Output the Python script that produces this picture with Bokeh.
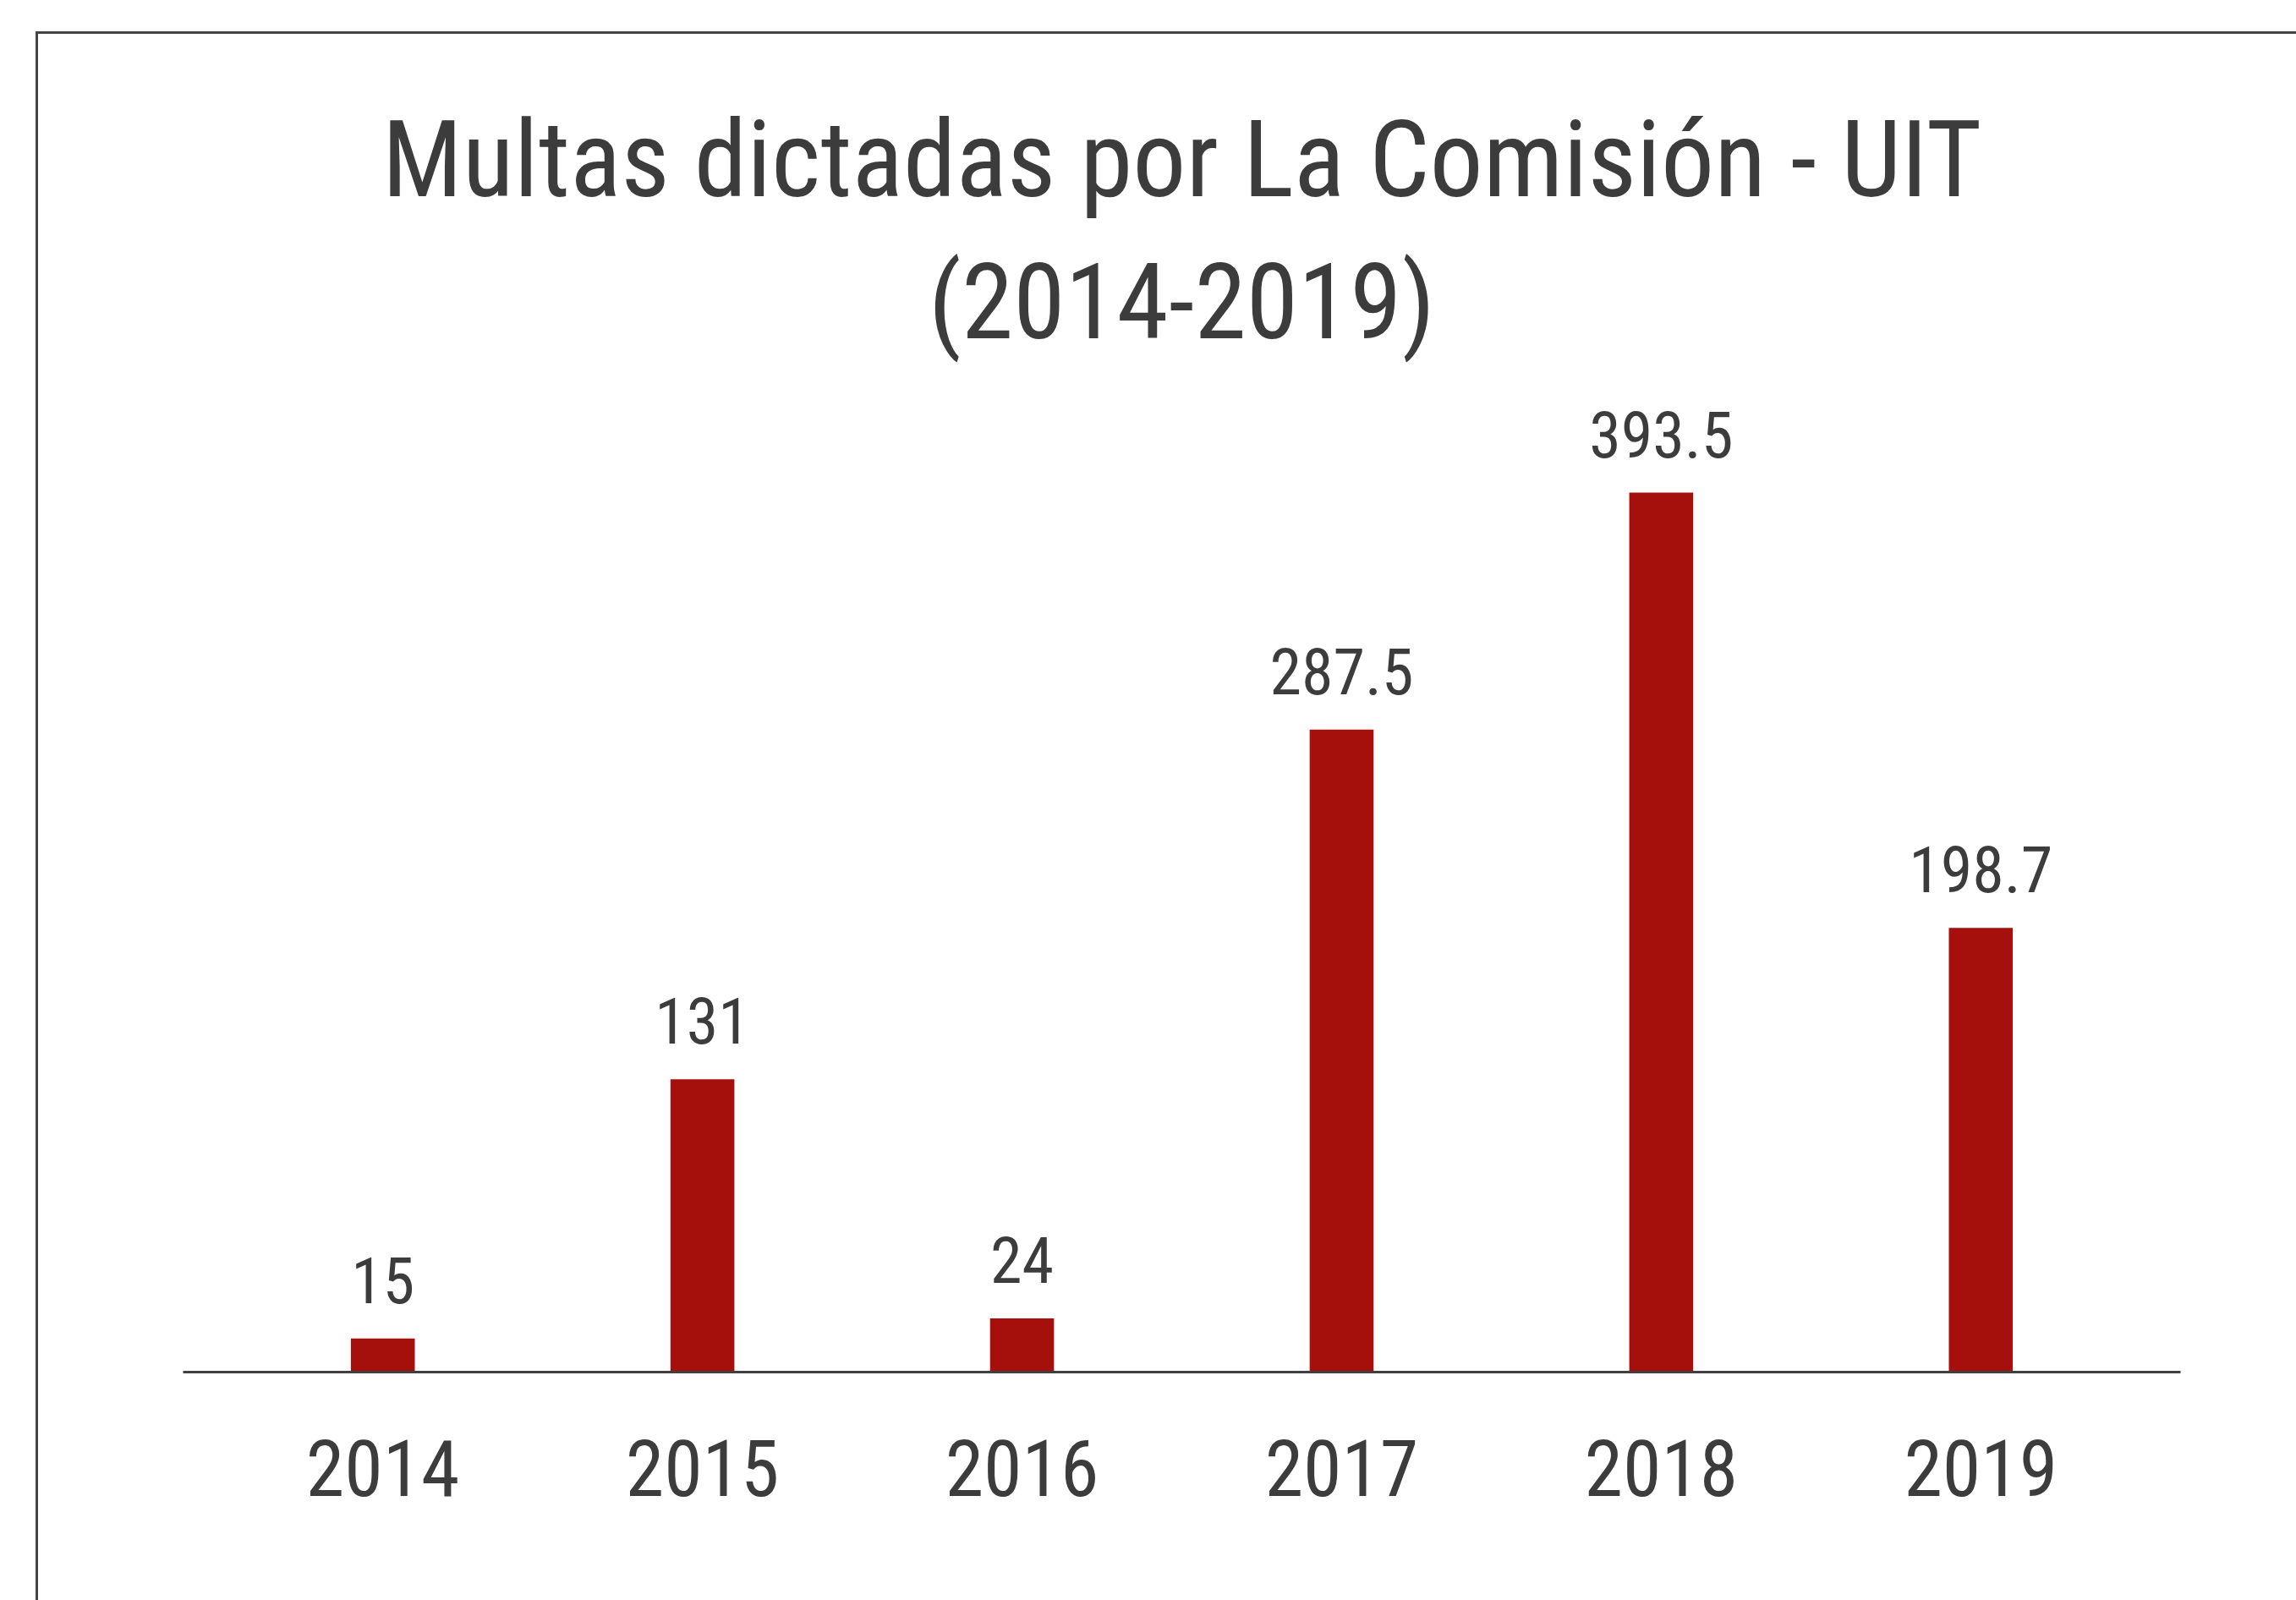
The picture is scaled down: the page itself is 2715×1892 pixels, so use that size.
from bokeh.plotting import figure
from bokeh.models import FactorRange, Range1d, ColumnDataSource, LabelSet, Title
from bokeh.core.properties import value
from bokeh.embed import file_html
from bokeh.resources import INLINE

# Data
years = ["2014", "2015", "2016", "2017", "2018", "2019"]
multas = [15, 131, 24, 287.5, 393.5, 198.7]
labels = [f"{v:g}" for v in multas]
title_main = "Multas dictadas por La Comisión - UIT"
title_sub = "(2014-2019)"

FONT = "Roboto Condensed"
TXT = "#3c3c3c"
BAR = "#a50f0c"
FRAME = "#444444"

src = ColumnDataSource(dict(year=years, value=multas, label=labels))

p = figure(
    width=2715, height=1892,
    x_range=FactorRange(factors=years, range_padding=0.125, range_padding_units="absolute"),
    y_range=Range1d(0, 448),
    output_backend="svg", toolbar_location=None, title=None,
    min_border_left=216, min_border_right=137, min_border_top=438, min_border_bottom=270,
)
p.add_layout(Title(text=title_sub, align="center", text_font=FONT, text_font_size="124px",
                   text_font_style="normal", text_color=TXT, standoff=18), "above")
p.add_layout(Title(text=title_main, align="center", text_font=FONT, text_font_size="126px",
                   text_font_style="normal", text_color=TXT, standoff=22), "above")

p.vbar(x="year", top="value", width=0.2, source=src, fill_color=BAR, line_color=None)

p.add_layout(LabelSet(x="year", y="value", text="label", source=src, y_offset=42,
                      text_align="center", text_baseline="alphabetic",
                      text_font=value(FONT), text_font_size=value("76px"), text_color=TXT))

# outer frame of the chart card (left and top edges visible, the rest runs off the page)
p.border_fill_color = None
p.background_fill_color = None
p.styles = {
    "background": (
        f"linear-gradient({FRAME},{FRAME}) 42px 37px / 3px 100% no-repeat, "
        f"linear-gradient({FRAME},{FRAME}) 42px 37px / 100% 3px no-repeat, #ffffff"
    )
}

p.yaxis.visible = False
p.xgrid.visible = False
p.ygrid.visible = False
p.outline_line_color = None

ax = p.xaxis[0]
ax.axis_line_color = "#404040"
ax.axis_line_width = 3
ax.major_tick_line_color = None
ax.minor_tick_line_color = None
ax.major_label_text_font = FONT
ax.major_label_text_font_size = "92px"
ax.major_label_text_color = TXT
ax.major_label_standoff = 73

open("out.html", "w").write(file_html(p, INLINE))
